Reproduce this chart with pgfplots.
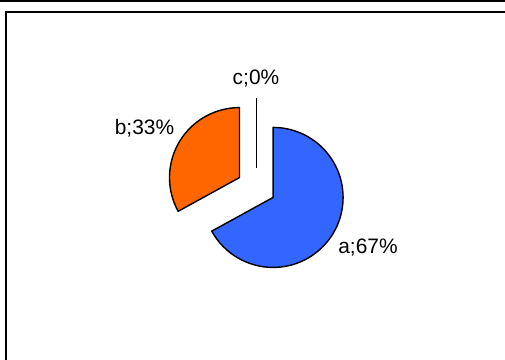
\documentclass[border=0pt]{standalone}
\usepackage{pgfplots}
\usepackage{pgfplotstable}
\pgfplotsset{compat=1.18}
\usepackage{fontspec}
\setmainfont{Liberation Sans}
\definecolor{piea}{HTML}{3366FF}
\definecolor{pieb}{HTML}{FF6600}
\definecolor{piec}{HTML}{99CC00}
\pgfplotstableread{
label value lx ly
a 67 368 112
b 33 144.5 232
c 0 256 281
}\piedata
\begin{document}
\begin{tikzpicture}
\useasboundingbox (0,0) rectangle (505bp,360bp);
\begin{axis}[x=1bp, y=1bp, xmin=0, xmax=505, ymin=0, ymax=360,
  hide axis, clip=false, anchor=origin, at={(0,0)}]
\pgfplotsextra{%
  \draw[line width=2.3bp] (axis cs:0,358.85) -- (axis cs:520,358.85);
  \draw[line width=2bp] (axis cs:6,-10) -- (axis cs:6,348) -- (axis cs:520,348);
  \def\cumang{90}%
  \pgfplotsforeachungrouped \i in {0,1,2}{%
    \pgfplotstablegetelem{\i}{value}\of\piedata \let\val\pgfplotsretval
    \pgfplotstablegetelem{\i}{label}\of\piedata \let\lab\pgfplotsretval
    \pgfplotstablegetelem{\i}{lx}\of\piedata \let\lx\pgfplotsretval
    \pgfplotstablegetelem{\i}{ly}\of\piedata \let\ly\pgfplotsretval
    \pgfmathsetmacro\sa{\cumang}%
    \pgfmathsetmacro\ea{\cumang-3.6*\val}%
    \pgfmathsetmacro\ma{(\sa+\ea)/2}%
    \pgfmathsetmacro\cx{256.3+19.5*cos(\ma)}%
    \pgfmathsetmacro\cy{172.5+19.5*sin(\ma)}%
    \ifdim\val pt>0pt
      \filldraw[fill=pie\lab, draw=black, line width=1.4bp, line join=round]
        (axis cs:\cx,\cy) -- ++(\sa:70bp) arc[start angle=\sa, end angle=\ea, radius=70bp] -- cycle;
    \else
      \draw[line width=1.4bp] (axis cs:\cx,\cy) -- ++(\sa:70bp);
    \fi
    \node[font=\fontsize{21}{25}\selectfont, inner sep=0pt] at (axis cs:\lx,\ly) {\lab;\val\%};
    \global\let\cumang\ea
  }%
}
\end{axis}
\end{tikzpicture}
\end{document}
